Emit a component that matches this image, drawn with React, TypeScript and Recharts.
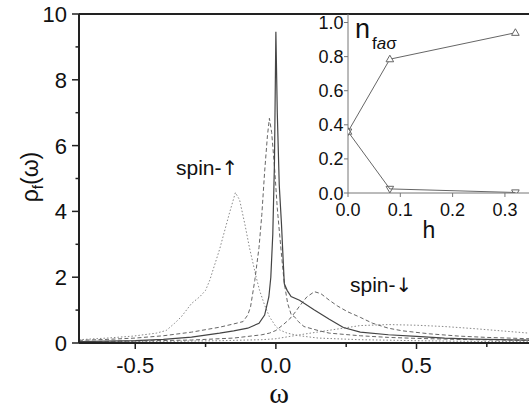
import { Line, LineChart, ReferenceLine, XAxis, YAxis } from "recharts";

// main panel, rho_f(omega) curves
const wSolid = [-0.7, -0.5, -0.4, -0.3, -0.25, -0.2, -0.15, -0.1, -0.06, -0.04, -0.025, -0.018, -0.011, -0.005, 0, 0.005, 0.012, 0.02, 0.026, 0.03, 0.04, 0.054, 0.084, 0.137, 0.19, 0.24, 0.3, 0.4, 0.5, 0.6, 0.7, 0.8, 0.9];
const rhoSolid = [0.04, 0.07, 0.11, 0.18, 0.24, 0.3, 0.37, 0.45, 0.6, 0.85, 1.4, 2.0, 3.3, 5.5, 9.46, 7.0, 4.8, 3.6, 2.5, 1.8, 1.6, 1.41, 1.3, 1.0, 0.72, 0.47, 0.33, 0.25, 0.2, 0.15, 0.12, 0.1, 0.09];

const wDashUp = [-0.7, -0.6, -0.5, -0.4, -0.3, -0.2, -0.15, -0.117, -0.1, -0.09, -0.075, -0.06, -0.05, -0.04, -0.03, -0.023, -0.015, -0.005, 0.005, 0.013, 0.022, 0.03, 0.042, 0.055, 0.066, 0.08, 0.1, 0.15, 0.19, 0.3, 0.4, 0.5, 0.6, 0.7, 0.8, 0.9];
const rhoDashUp = [0.08, 0.11, 0.15, 0.22, 0.33, 0.48, 0.58, 0.65, 0.85, 1.1, 1.9, 2.9, 3.9, 5.2, 6.3, 6.83, 6.4, 5.36, 4.1, 3.33, 2.5, 1.81, 1.2, 0.85, 0.8, 0.65, 0.5, 0.38, 0.3, 0.22, 0.17, 0.14, 0.12, 0.1, 0.09, 0.08];

const wDotUp = [-0.7, -0.6, -0.507, -0.425, -0.39, -0.36, -0.336, -0.3, -0.27, -0.25, -0.235, -0.2, -0.165, -0.144, -0.129, -0.11, -0.094, -0.07, -0.058, -0.04, -0.023, 0, 0.013, 0.04, 0.084, 0.15, 0.3, 0.5, 0.7, 0.9];
const rhoDotUp = [0.1, 0.15, 0.21, 0.3, 0.38, 0.6, 0.8, 1.2, 1.41, 1.6, 1.91, 2.85, 3.95, 4.57, 4.35, 3.6, 2.9, 2.0, 1.6, 1.15, 0.8, 0.5, 0.4, 0.3, 0.22, 0.15, 0.1, 0.07, 0.05, 0.04];

const wDashDown = [-0.7, -0.5, -0.3, -0.15, -0.05, -0.023, 0, 0.025, 0.048, 0.07, 0.084, 0.11, 0.137, 0.16, 0.19, 0.22, 0.255, 0.3, 0.344, 0.4, 0.45, 0.545, 0.65, 0.75, 0.9];
const rhoDashDown = [0.04, 0.06, 0.09, 0.15, 0.25, 0.3, 0.38, 0.55, 0.72, 0.95, 1.12, 1.4, 1.56, 1.5, 1.3, 1.12, 0.95, 0.78, 0.6, 0.45, 0.37, 0.28, 0.21, 0.17, 0.13];

const wDotDown = [-0.7, -0.4, -0.2, -0.05, 0, 0.05, 0.1, 0.2, 0.3, 0.4, 0.5, 0.6, 0.7, 0.8, 0.9];
const rhoDotDown = [0.03, 0.05, 0.07, 0.1, 0.13, 0.2, 0.27, 0.4, 0.53, 0.56, 0.54, 0.5, 0.44, 0.37, 0.3];

// inset, n_faσ vs h
const hVals = [0, 0.08, 0.32];
const nUp = [0.36, 0.785, 0.94];
const nDown = [0.36, 0.024, 0.003];

const xMajor = [-0.5, 0, 0.5];
const xMinor = [-0.25, 0.25, 0.75];
const yMajor = [0, 2, 4, 6, 8, 10];
const yMinor = [1, 3, 5, 7, 9];
const insetXMajor = [0, 0.1, 0.2, 0.3];
const insetXMinor = [0.05, 0.15, 0.25];
const insetYMajor = [0, 0.2, 0.4, 0.6, 0.8, 1.0];
const insetYMinor = [0.1, 0.3, 0.5, 0.7, 0.9];

const zip = (xs: number[], ys: number[], kx: string, ky: string) =>
  xs.map((x, i) => ({ [kx]: x, [ky]: ys[i] }));

const FONT = '"Liberation Sans", Arial, sans-serif';
const ARROW_FONT = '"DejaVu Sans", sans-serif';
const AX = "#222";
const IN_AX = "#777";

const MainXTick = (p: any) => {
  const v = p.payload.value;
  const major = xMajor.includes(v);
  return (
    <g>
      <line x1={p.x} x2={p.x} y1={343} y2={major ? 349 : 347} stroke={AX} strokeWidth={1.5} />
      {major && (
        <text x={p.x} y={373} textAnchor="middle" fontSize={22} fontFamily={FONT} fill="#111">
          {v.toFixed(1)}
        </text>
      )}
    </g>
  );
};

const MainYTick = (p: any) => {
  const v = p.payload.value;
  const major = yMajor.includes(v);
  return (
    <g>
      <line x1={major ? 72 : 75.5} x2={79} y1={p.y} y2={p.y} stroke={AX} strokeWidth={1.5} />
      {major && (
        <text x={67} y={p.y + 8} textAnchor="end" fontSize={22} fontFamily={FONT} fill="#111">
          {String(v)}
        </text>
      )}
    </g>
  );
};

const InsetXTick = (p: any) => {
  const v = p.payload.value;
  const major = insetXMajor.includes(v);
  return (
    <g>
      <line x1={p.x} x2={p.x} y1={193} y2={major ? 197 : 195.5} stroke={IN_AX} strokeWidth={1} />
      {major && (
        <text x={p.x} y={216} textAnchor="middle" fontSize={18} fontFamily={FONT} fill="#111">
          {v.toFixed(1)}
        </text>
      )}
    </g>
  );
};

const InsetYTick = (p: any) => {
  const v = p.payload.value;
  const major = insetYMajor.includes(v);
  return (
    <g>
      <line x1={major ? 344 : 345.5} x2={348} y1={p.y} y2={p.y} stroke={IN_AX} strokeWidth={1} />
      {major && (
        <text x={343.5} y={p.y + 6.5} textAnchor="end" fontSize={18} fontFamily={FONT} fill="#111">
          {v.toFixed(1)}
        </text>
      )}
    </g>
  );
};

const TriUp = (p: any) => (
  <polygon
    key={"u" + p.index}
    points={`${p.cx},${p.cy - 4} ${p.cx - 3.8},${p.cy + 2.6} ${p.cx + 3.8},${p.cy + 2.6}`}
    fill="#fff"
    stroke="#666"
    strokeWidth={1}
  />
);

const TriDown = (p: any) => (
  <polygon
    key={"d" + p.index}
    points={`${p.cx},${p.cy + 4} ${p.cx - 3.8},${p.cy - 2.6} ${p.cx + 3.8},${p.cy - 2.6}`}
    fill="none"
    stroke="#666"
    strokeWidth={1}
  />
);

export default function App() {
  return (
    <div style={{ position: "absolute", left: 0, top: 0, width: 529, height: 411, overflow: "hidden", background: "#fff" }}>
      <div style={{ position: "absolute", left: 0, top: 0 }}>
        <LineChart width={529} height={411} margin={{ top: 14, right: 0, bottom: 0, left: 0 }}>
          <XAxis
            dataKey="w"
            type="number"
            domain={[-0.7, 0.9]}
            ticks={[...xMajor, ...xMinor].sort((a, b) => a - b)}
            height={68}
            tick={MainXTick}
            tickLine={false}
            axisLine={{ stroke: AX, strokeWidth: 2 }}
            allowDataOverflow
          />
          <YAxis
            type="number"
            domain={[0, 10]}
            ticks={[...yMajor, ...yMinor].sort((a, b) => a - b)}
            width={79}
            tick={MainYTick}
            tickLine={false}
            axisLine={{ stroke: AX, strokeWidth: 2 }}
            allowDataOverflow
          />
          <ReferenceLine y={10} stroke={AX} strokeWidth={2} />
          <Line data={zip(wDotDown, rhoDotDown, "w", "rho")} dataKey="rho" stroke="#888" strokeWidth={1} strokeDasharray="1.5 2" dot={false} isAnimationActive={false} />
          <Line data={zip(wDashDown, rhoDashDown, "w", "rho")} dataKey="rho" stroke="#666" strokeWidth={1} strokeDasharray="4 2.5" dot={false} isAnimationActive={false} />
          <Line data={zip(wDotUp, rhoDotUp, "w", "rho")} dataKey="rho" stroke="#888" strokeWidth={1} strokeDasharray="1.5 2" dot={false} isAnimationActive={false} />
          <Line data={zip(wDashUp, rhoDashUp, "w", "rho")} dataKey="rho" stroke="#666" strokeWidth={1} strokeDasharray="4 2.5" dot={false} isAnimationActive={false} />
          <Line data={zip(wSolid, rhoSolid, "w", "rho")} dataKey="rho" stroke="#444" strokeWidth={1.2} dot={false} isAnimationActive={false} />
        </LineChart>
      </div>

      <div style={{ position: "absolute", left: 0, top: 0 }}>
        <LineChart width={529} height={411} margin={{ top: 14, right: 0, bottom: 0, left: 0 }}>
          <XAxis
            dataKey="h"
            type="number"
            domain={[0, 0.346]}
            ticks={[...insetXMajor, ...insetXMinor].sort((a, b) => a - b)}
            height={218}
            tick={InsetXTick}
            tickLine={false}
            axisLine={{ stroke: IN_AX, strokeWidth: 1 }}
            allowDataOverflow
          />
          <YAxis
            type="number"
            domain={[0, 1.05]}
            ticks={[...insetYMajor, ...insetYMinor].sort((a, b) => a - b)}
            width={348}
            tick={InsetYTick}
            tickLine={false}
            axisLine={{ stroke: IN_AX, strokeWidth: 1 }}
            allowDataOverflow
          />
          <Line data={zip(hVals, nUp, "h", "n")} dataKey="n" stroke="#666" strokeWidth={1} dot={TriUp} isAnimationActive={false} />
          <Line data={zip(hVals, nDown, "h", "n")} dataKey="n" stroke="#666" strokeWidth={1} dot={TriDown} isAnimationActive={false} />
        </LineChart>
      </div>

      <svg width={529} height={411} style={{ position: "absolute", left: 0, top: 0, pointerEvents: "none" }}>
        <g fontFamily={FONT} fill="#111">
          <text transform="translate(38,177) rotate(-90)" textAnchor="middle" fontSize={23}>
            ρ<tspan fontSize={15} dy={5}>f</tspan>
            <tspan dy={-5}>(ω)</tspan>
          </text>
          <text x={176} y={175} fontSize={21}>
            spin-<tspan fontFamily={ARROW_FONT} fontSize={20}>↑</tspan>
          </text>
          <text x={350} y={291.5} fontSize={21}>
            spin-<tspan fontFamily={ARROW_FONT} fontSize={20}>↓</tspan>
          </text>
          <text x={429} y={238} fontSize={23} textAnchor="middle">h</text>
          <text x={355} y={38} fontSize={27}>n</text>
          <text x={372} y={49} fontSize={17}>
            f<tspan fontStyle="italic">a</tspan>σ
          </text>
        </g>
        <text x={279} y={403} fontSize={30} textAnchor="middle" fontFamily='"Liberation Serif", "DejaVu Serif", serif' fill="#111">
          ω
        </text>
      </svg>
    </div>
  );
}
